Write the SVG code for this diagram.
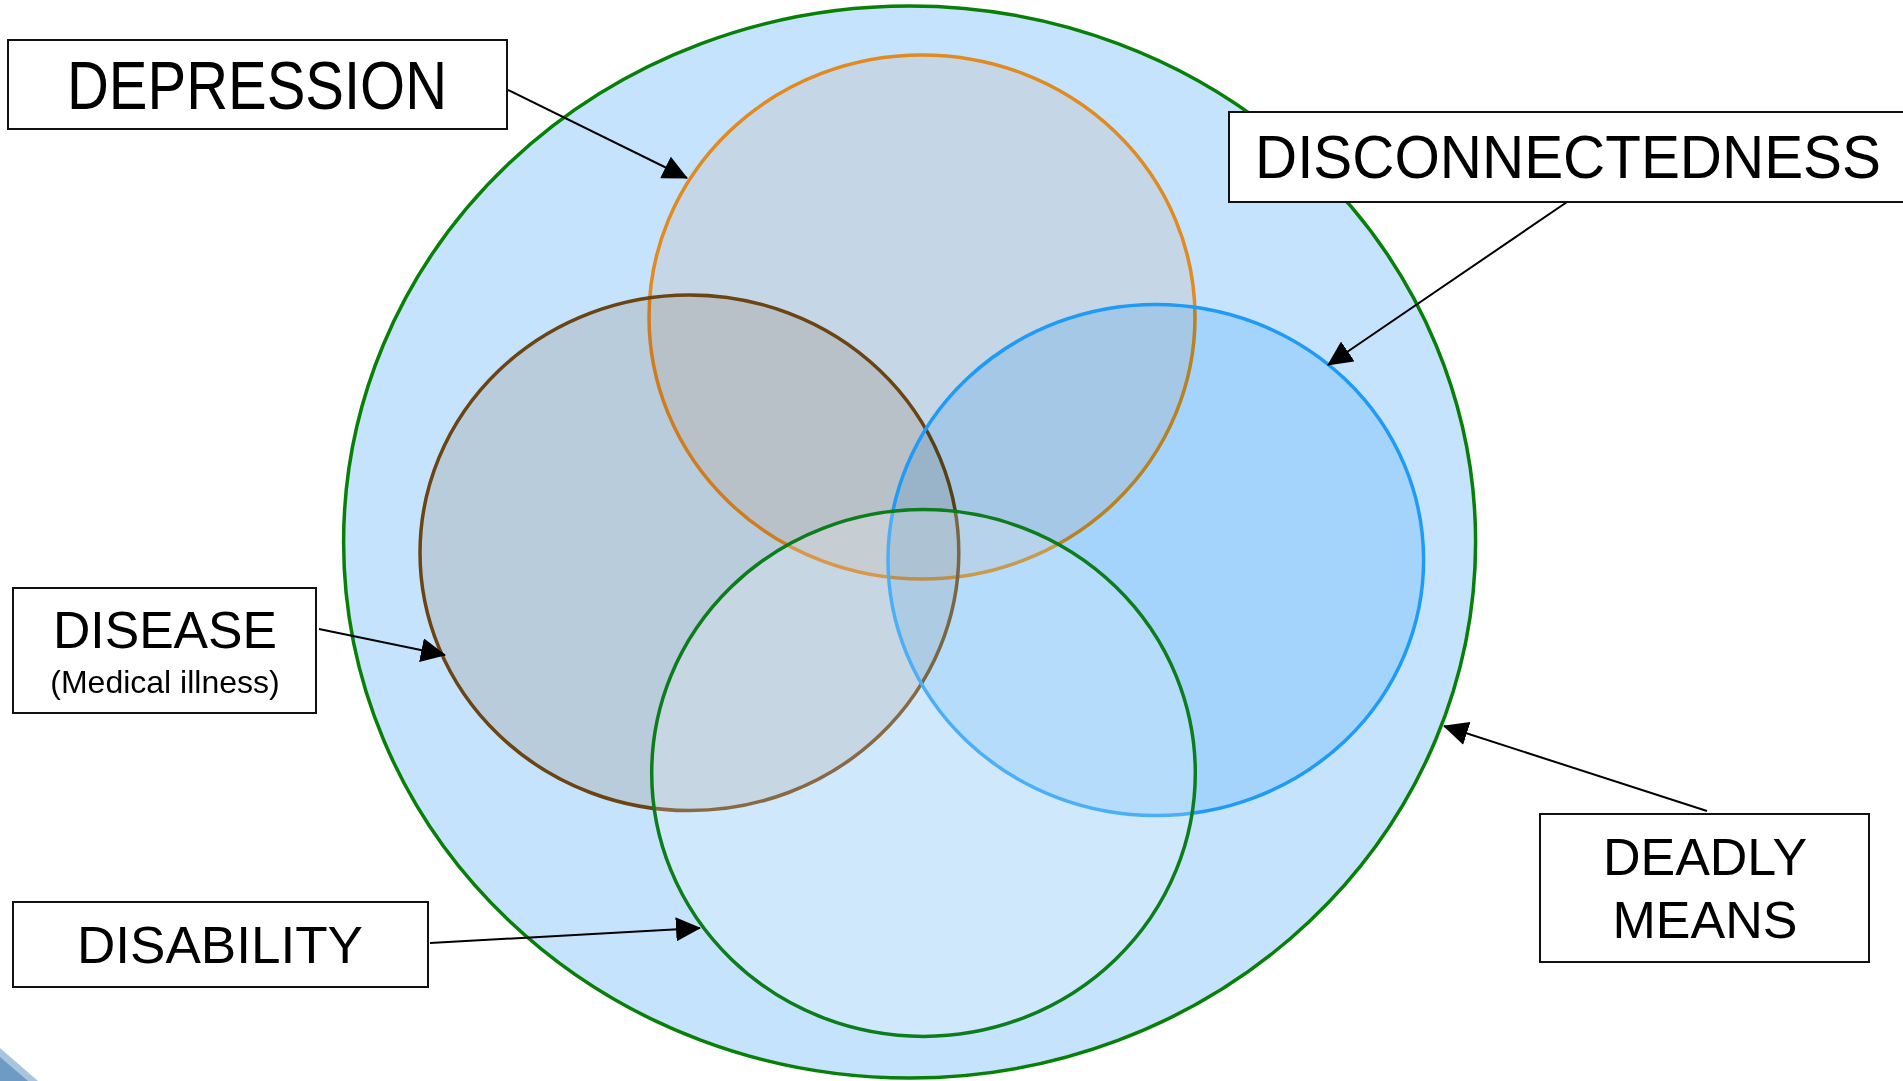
<svg xmlns="http://www.w3.org/2000/svg" width="1903" height="1081" viewBox="0 0 1903 1081">
<defs>
<marker id="ah" markerUnits="userSpaceOnUse" viewBox="0 0 25 24" refX="24" refY="12" markerWidth="25" markerHeight="24" orient="auto">
<path d="M0,0 L25,12 L0,24 z" fill="#000"/>
</marker>
</defs>
<style>
.box{fill:#fff;stroke:#111;stroke-width:2}
.lbl{font-family:"Liberation Sans",Arial,sans-serif;fill:#000;text-anchor:middle}
.conn{stroke:#000;stroke-width:2;fill:none;marker-end:url(#ah)}
.ring{fill:none;stroke-width:3.5}
</style>
<rect width="1903" height="1081" fill="#fff"/>
<polygon points="0,1048 38,1081 0,1081" fill="#a9c5de"/>
<polygon points="0,1057 28,1081 0,1081" fill="#6d9bc3"/>

<g id="deadly-means-circle">
<ellipse cx="909.6" cy="542" rx="566" ry="536" fill="#c5e3fc" stroke="#088008" stroke-width="3.5"/>
</g>
<g id="depression-circle">
<ellipse cx="922" cy="317" rx="273" ry="262" fill="#fff2e9" style="mix-blend-mode:multiply"/>
<ellipse class="ring" cx="922" cy="317" rx="273" ry="262" stroke="#e08a20"/>
</g>
<g id="disease-circle">
<ellipse cx="689.4" cy="552.8" rx="269.4" ry="257.8" fill="#eee5de" style="mix-blend-mode:multiply"/>
<ellipse class="ring" cx="689.4" cy="552.8" rx="269.4" ry="257.8" stroke="#6b4412"/>
</g>
<g id="disconnectedness-circle">
<ellipse cx="1155.8" cy="560" rx="267.8" ry="255.5" fill="#d4eeff" style="mix-blend-mode:multiply"/>
<ellipse class="ring" cx="1155.8" cy="560" rx="267.8" ry="255.5" stroke="#1f9bf7"/>
</g>
<g id="disability-circle">
<ellipse cx="923.5" cy="773" rx="271.8" ry="263.4" fill="#fff" fill-opacity="0.2"/>
<ellipse class="ring" cx="923.5" cy="773" rx="271.8" ry="263.4" stroke="#0b7d1a"/>
</g>

<g id="connectors">
<line class="conn" x1="508" y1="90" x2="687" y2="178"/>
<line class="conn" x1="1567" y1="202" x2="1328" y2="365"/>
<line class="conn" x1="319" y1="629" x2="445" y2="655"/>
<line class="conn" x1="430" y1="943" x2="700" y2="928"/>
<line class="conn" x1="1707" y1="811" x2="1444" y2="726"/>
</g>

<g id="depression-label">
<rect class="box" x="8" y="40" width="499" height="89"/>
<text class="lbl" x="257" y="109" font-size="68" textLength="380" lengthAdjust="spacingAndGlyphs">DEPRESSION</text>
</g>
<g id="disconnectedness-label">
<rect class="box" x="1229" y="112" width="690" height="90"/>
<text class="lbl" x="1568" y="178" font-size="62" textLength="626" lengthAdjust="spacingAndGlyphs">DISCONNECTEDNESS</text>
</g>
<g id="disease-label">
<rect class="box" x="13" y="588" width="303" height="125"/>
<text class="lbl" x="165" y="648" font-size="52" textLength="224" lengthAdjust="spacingAndGlyphs">DISEASE</text>
<text class="lbl" x="165" y="693" font-size="32">(Medical illness)</text>
</g>
<g id="disability-label">
<rect class="box" x="13" y="902" width="415" height="85"/>
<text class="lbl" x="220" y="963" font-size="52" textLength="286" lengthAdjust="spacingAndGlyphs">DISABILITY</text>
</g>
<g id="deadly-means-label">
<rect class="box" x="1540" y="814" width="329" height="148"/>
<text class="lbl" x="1705" y="875" font-size="52">DEADLY</text>
<text class="lbl" x="1705" y="938" font-size="52">MEANS</text>
</g>
</svg>
